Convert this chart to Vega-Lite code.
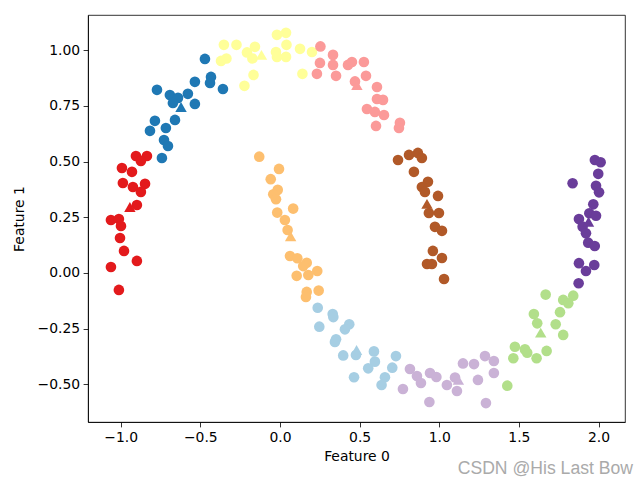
{
  "$schema": "https://vega.github.io/schema/vega-lite/v6.json",
  "width": 537,
  "height": 407,
  "autosize": {"type": "none"},
  "padding": {"left": 88, "top": 15, "right": 15, "bottom": 58},
  "background": "white",
  "config": {
    "view": {"stroke": "#000", "strokeWidth": 0.8},
    "font": "DejaVu Sans",
    "axis": {"grid": false, "labelFont": "DejaVu Sans", "labelFontSize": 13.9, "labelColor": "#000", "tickColor": "#000", "tickSize": 4.9, "tickWidth": 0.8, "domainColor": "#000", "domainWidth": 0.8, "titleFont": "DejaVu Sans", "titleFontSize": 13.9, "titleFontWeight": "normal", "titleColor": "#000", "labelPadding": 3.5, "titlePadding": 5},
    "axisY": {"titlePadding": 11}
  },
  "title": {"text": "CSDN @His Last Bow", "orient": "bottom", "anchor": "end", "color": "#aaaaaa", "fontSize": 17.6, "fontWeight": "normal", "font": "Liberation Sans", "offset": -3, "dx": 8},
  "datasets": {
    "pts": [
      {"x": -0.904, "y": 0.525, "c": "0", "k": "p"},
      {"x": -0.835, "y": 0.525, "c": "0", "k": "p"},
      {"x": -0.873, "y": 0.503, "c": "0", "k": "p"},
      {"x": -0.992, "y": 0.471, "c": "0", "k": "p"},
      {"x": -0.929, "y": 0.454, "c": "0", "k": "p"},
      {"x": -0.986, "y": 0.404, "c": "0", "k": "p"},
      {"x": -0.923, "y": 0.386, "c": "0", "k": "p"},
      {"x": -0.847, "y": 0.4, "c": "0", "k": "p"},
      {"x": -0.873, "y": 0.364, "c": "0", "k": "p"},
      {"x": -0.898, "y": 0.305, "c": "0", "k": "p"},
      {"x": -1.061, "y": 0.238, "c": "0", "k": "p"},
      {"x": -1.011, "y": 0.242, "c": "0", "k": "p"},
      {"x": -0.998, "y": 0.211, "c": "0", "k": "p"},
      {"x": -1.004, "y": 0.157, "c": "0", "k": "p"},
      {"x": -0.979, "y": 0.099, "c": "0", "k": "p"},
      {"x": -0.898, "y": 0.054, "c": "0", "k": "p"},
      {"x": -1.061, "y": 0.027, "c": "0", "k": "p"},
      {"x": -1.011, "y": -0.076, "c": "0", "k": "p"},
      {"x": -0.471, "y": 0.961, "c": "1", "k": "p"},
      {"x": -0.534, "y": 0.858, "c": "1", "k": "p"},
      {"x": -0.433, "y": 0.88, "c": "1", "k": "p"},
      {"x": -0.439, "y": 0.853, "c": "1", "k": "p"},
      {"x": -0.358, "y": 0.826, "c": "1", "k": "p"},
      {"x": -0.772, "y": 0.822, "c": "1", "k": "p"},
      {"x": -0.691, "y": 0.799, "c": "1", "k": "p"},
      {"x": -0.578, "y": 0.804, "c": "1", "k": "p"},
      {"x": -0.64, "y": 0.786, "c": "1", "k": "p"},
      {"x": -0.672, "y": 0.763, "c": "1", "k": "p"},
      {"x": -0.534, "y": 0.759, "c": "1", "k": "p"},
      {"x": -0.659, "y": 0.687, "c": "1", "k": "p"},
      {"x": -0.785, "y": 0.683, "c": "1", "k": "p"},
      {"x": -0.816, "y": 0.638, "c": "1", "k": "p"},
      {"x": -0.716, "y": 0.651, "c": "1", "k": "p"},
      {"x": -0.728, "y": 0.597, "c": "1", "k": "p"},
      {"x": -0.703, "y": 0.57, "c": "1", "k": "p"},
      {"x": -0.741, "y": 0.516, "c": "1", "k": "p"},
      {"x": -0.352, "y": 1.024, "c": "2", "k": "p"},
      {"x": -0.273, "y": 1.024, "c": "2", "k": "p"},
      {"x": -0.336, "y": 0.963, "c": "2", "k": "p"},
      {"x": -0.37, "y": 0.952, "c": "2", "k": "p"},
      {"x": -0.207, "y": 0.99, "c": "2", "k": "p"},
      {"x": -0.157, "y": 1.015, "c": "2", "k": "p"},
      {"x": -0.173, "y": 0.963, "c": "2", "k": "p"},
      {"x": -0.166, "y": 0.889, "c": "2", "k": "p"},
      {"x": -0.223, "y": 0.84, "c": "2", "k": "p"},
      {"x": -0.019, "y": 1.069, "c": "2", "k": "p"},
      {"x": 0.038, "y": 1.078, "c": "2", "k": "p"},
      {"x": -0.025, "y": 0.992, "c": "2", "k": "p"},
      {"x": 0.041, "y": 1.024, "c": "2", "k": "p"},
      {"x": 0.038, "y": 0.97, "c": "2", "k": "p"},
      {"x": -0.019, "y": 0.97, "c": "2", "k": "p"},
      {"x": 0.126, "y": 1.006, "c": "2", "k": "p"},
      {"x": 0.201, "y": 0.992, "c": "2", "k": "p"},
      {"x": 0.141, "y": 0.894, "c": "2", "k": "p"},
      {"x": 0.254, "y": 1.017, "c": "3", "k": "p"},
      {"x": 0.333, "y": 0.979, "c": "3", "k": "p"},
      {"x": 0.251, "y": 0.943, "c": "3", "k": "p"},
      {"x": 0.333, "y": 0.934, "c": "3", "k": "p"},
      {"x": 0.232, "y": 0.894, "c": "3", "k": "p"},
      {"x": 0.352, "y": 0.885, "c": "3", "k": "p"},
      {"x": 0.427, "y": 0.934, "c": "3", "k": "p"},
      {"x": 0.452, "y": 0.947, "c": "3", "k": "p"},
      {"x": 0.527, "y": 0.947, "c": "3", "k": "p"},
      {"x": 0.54, "y": 0.885, "c": "3", "k": "p"},
      {"x": 0.471, "y": 0.86, "c": "3", "k": "p"},
      {"x": 0.609, "y": 0.835, "c": "3", "k": "p"},
      {"x": 0.609, "y": 0.781, "c": "3", "k": "p"},
      {"x": 0.647, "y": 0.777, "c": "3", "k": "p"},
      {"x": 0.546, "y": 0.736, "c": "3", "k": "p"},
      {"x": 0.596, "y": 0.723, "c": "3", "k": "p"},
      {"x": 0.653, "y": 0.709, "c": "3", "k": "p"},
      {"x": 0.603, "y": 0.66, "c": "3", "k": "p"},
      {"x": 0.753, "y": 0.674, "c": "3", "k": "p"},
      {"x": 0.747, "y": 0.651, "c": "3", "k": "p"},
      {"x": -0.13, "y": 0.522, "c": "4", "k": "p"},
      {"x": -0.006, "y": 0.467, "c": "4", "k": "p"},
      {"x": -0.058, "y": 0.421, "c": "4", "k": "p"},
      {"x": -0.014, "y": 0.373, "c": "4", "k": "p"},
      {"x": -0.042, "y": 0.353, "c": "4", "k": "p"},
      {"x": -0.025, "y": 0.331, "c": "4", "k": "p"},
      {"x": 0.083, "y": 0.289, "c": "4", "k": "p"},
      {"x": -0.017, "y": 0.271, "c": "4", "k": "p"},
      {"x": 0.031, "y": 0.238, "c": "4", "k": "p"},
      {"x": 0.048, "y": 0.193, "c": "4", "k": "p"},
      {"x": 0.063, "y": 0.076, "c": "4", "k": "p"},
      {"x": 0.109, "y": 0.066, "c": "4", "k": "p"},
      {"x": 0.168, "y": 0.046, "c": "4", "k": "p"},
      {"x": 0.146, "y": 0.031, "c": "4", "k": "p"},
      {"x": 0.234, "y": 0.009, "c": "4", "k": "p"},
      {"x": 0.178, "y": -0.009, "c": "4", "k": "p"},
      {"x": 0.105, "y": -0.013, "c": "4", "k": "p"},
      {"x": 0.168, "y": -0.085, "c": "4", "k": "p"},
      {"x": 0.163, "y": -0.108, "c": "4", "k": "p"},
      {"x": 0.243, "y": -0.079, "c": "4", "k": "p"},
      {"x": 0.741, "y": 0.507, "c": "5", "k": "p"},
      {"x": 0.81, "y": 0.53, "c": "5", "k": "p"},
      {"x": 0.866, "y": 0.539, "c": "5", "k": "p"},
      {"x": 0.891, "y": 0.516, "c": "5", "k": "p"},
      {"x": 0.841, "y": 0.454, "c": "5", "k": "p"},
      {"x": 0.929, "y": 0.409, "c": "5", "k": "p"},
      {"x": 0.891, "y": 0.386, "c": "5", "k": "p"},
      {"x": 0.91, "y": 0.364, "c": "5", "k": "p"},
      {"x": 0.992, "y": 0.346, "c": "5", "k": "p"},
      {"x": 0.935, "y": 0.269, "c": "5", "k": "p"},
      {"x": 0.998, "y": 0.269, "c": "5", "k": "p"},
      {"x": 0.973, "y": 0.207, "c": "5", "k": "p"},
      {"x": 1.017, "y": 0.189, "c": "5", "k": "p"},
      {"x": 0.96, "y": 0.099, "c": "5", "k": "p"},
      {"x": 1.017, "y": 0.067, "c": "5", "k": "p"},
      {"x": 0.923, "y": 0.04, "c": "5", "k": "p"},
      {"x": 0.954, "y": 0.04, "c": "5", "k": "p"},
      {"x": 1.03, "y": -0.027, "c": "5", "k": "p"},
      {"x": 1.977, "y": 0.507, "c": "6", "k": "p"},
      {"x": 2.013, "y": 0.497, "c": "6", "k": "p"},
      {"x": 1.998, "y": 0.445, "c": "6", "k": "p"},
      {"x": 1.837, "y": 0.403, "c": "6", "k": "p"},
      {"x": 1.984, "y": 0.391, "c": "6", "k": "p"},
      {"x": 2.003, "y": 0.362, "c": "6", "k": "p"},
      {"x": 1.967, "y": 0.308, "c": "6", "k": "p"},
      {"x": 1.877, "y": 0.242, "c": "6", "k": "p"},
      {"x": 1.942, "y": 0.268, "c": "6", "k": "p"},
      {"x": 1.984, "y": 0.257, "c": "6", "k": "p"},
      {"x": 1.9, "y": 0.208, "c": "6", "k": "p"},
      {"x": 1.921, "y": 0.178, "c": "6", "k": "p"},
      {"x": 1.935, "y": 0.136, "c": "6", "k": "p"},
      {"x": 1.976, "y": 0.121, "c": "6", "k": "p"},
      {"x": 1.877, "y": 0.044, "c": "6", "k": "p"},
      {"x": 1.973, "y": 0.036, "c": "6", "k": "p"},
      {"x": 1.921, "y": 0.009, "c": "6", "k": "p"},
      {"x": 1.875, "y": -0.046, "c": "6", "k": "p"},
      {"x": 0.237, "y": -0.156, "c": "7", "k": "p"},
      {"x": 0.331, "y": -0.184, "c": "7", "k": "p"},
      {"x": 0.335, "y": -0.198, "c": "7", "k": "p"},
      {"x": 0.247, "y": -0.241, "c": "7", "k": "p"},
      {"x": 0.435, "y": -0.23, "c": "7", "k": "p"},
      {"x": 0.408, "y": -0.253, "c": "7", "k": "p"},
      {"x": 0.352, "y": -0.298, "c": "7", "k": "p"},
      {"x": 0.345, "y": -0.31, "c": "7", "k": "p"},
      {"x": 0.397, "y": -0.37, "c": "7", "k": "p"},
      {"x": 0.477, "y": -0.368, "c": "7", "k": "p"},
      {"x": 0.59, "y": -0.352, "c": "7", "k": "p"},
      {"x": 0.596, "y": -0.398, "c": "7", "k": "p"},
      {"x": 0.554, "y": -0.428, "c": "7", "k": "p"},
      {"x": 0.728, "y": -0.373, "c": "7", "k": "p"},
      {"x": 0.705, "y": -0.425, "c": "7", "k": "p"},
      {"x": 0.465, "y": -0.468, "c": "7", "k": "p"},
      {"x": 0.659, "y": -0.468, "c": "7", "k": "p"},
      {"x": 0.638, "y": -0.503, "c": "7", "k": "p"},
      {"x": 0.816, "y": -0.431, "c": "8", "k": "p"},
      {"x": 0.86, "y": -0.463, "c": "8", "k": "p"},
      {"x": 0.885, "y": -0.494, "c": "8", "k": "p"},
      {"x": 0.772, "y": -0.521, "c": "8", "k": "p"},
      {"x": 0.942, "y": -0.449, "c": "8", "k": "p"},
      {"x": 0.982, "y": -0.467, "c": "8", "k": "p"},
      {"x": 0.938, "y": -0.579, "c": "8", "k": "p"},
      {"x": 1.099, "y": -0.469, "c": "8", "k": "p"},
      {"x": 1.048, "y": -0.503, "c": "8", "k": "p"},
      {"x": 1.111, "y": -0.53, "c": "8", "k": "p"},
      {"x": 1.149, "y": -0.406, "c": "8", "k": "p"},
      {"x": 1.218, "y": -0.409, "c": "8", "k": "p"},
      {"x": 1.287, "y": -0.373, "c": "8", "k": "p"},
      {"x": 1.343, "y": -0.395, "c": "8", "k": "p"},
      {"x": 1.343, "y": -0.449, "c": "8", "k": "p"},
      {"x": 1.243, "y": -0.48, "c": "8", "k": "p"},
      {"x": 1.293, "y": -0.584, "c": "8", "k": "p"},
      {"x": 1.668, "y": -0.097, "c": "9", "k": "p"},
      {"x": 1.778, "y": -0.121, "c": "9", "k": "p"},
      {"x": 1.841, "y": -0.102, "c": "9", "k": "p"},
      {"x": 1.81, "y": -0.136, "c": "9", "k": "p"},
      {"x": 1.758, "y": -0.176, "c": "9", "k": "p"},
      {"x": 1.594, "y": -0.184, "c": "9", "k": "p"},
      {"x": 1.615, "y": -0.226, "c": "9", "k": "p"},
      {"x": 1.731, "y": -0.23, "c": "9", "k": "p"},
      {"x": 1.778, "y": -0.278, "c": "9", "k": "p"},
      {"x": 1.475, "y": -0.331, "c": "9", "k": "p"},
      {"x": 1.465, "y": -0.383, "c": "9", "k": "p"},
      {"x": 1.538, "y": -0.343, "c": "9", "k": "p"},
      {"x": 1.552, "y": -0.358, "c": "9", "k": "p"},
      {"x": 1.611, "y": -0.383, "c": "9", "k": "p"},
      {"x": 1.674, "y": -0.35, "c": "9", "k": "p"},
      {"x": 1.427, "y": -0.506, "c": "9", "k": "p"},
      {"x": -0.942, "y": 0.296, "c": "0", "k": "c"},
      {"x": -0.621, "y": 0.745, "c": "1", "k": "c"},
      {"x": -0.116, "y": 0.979, "c": "2", "k": "c"},
      {"x": 0.483, "y": 0.844, "c": "3", "k": "c"},
      {"x": 0.067, "y": 0.165, "c": "4", "k": "c"},
      {"x": 0.923, "y": 0.31, "c": "5", "k": "c"},
      {"x": 1.937, "y": 0.23, "c": "6", "k": "c"},
      {"x": 0.481, "y": -0.346, "c": "7", "k": "c"},
      {"x": 1.12, "y": -0.48, "c": "8", "k": "c"},
      {"x": 1.637, "y": -0.268, "c": "9", "k": "c"}
    ]
  },
  "data": {"name": "pts"},
  "mark": {"type": "point", "filled": true, "opacity": 1, "strokeWidth": 0},
  "encoding": {
    "x": {"field": "x", "type": "quantitative", "title": "Feature 0", "scale": {"domain": [-1.205, 2.166], "nice": false, "zero": false}, "axis": {"values": [-1, -0.5, 0, 0.5, 1, 1.5, 2], "format": ".1f"}},
    "y": {"field": "y", "type": "quantitative", "title": "Feature 1", "scale": {"domain": [-0.669, 1.158], "nice": false, "zero": false}, "axis": {"values": [-0.5, -0.25, 0, 0.25, 0.5, 0.75, 1], "format": ".2f"}},
    "color": {"field": "c", "type": "nominal", "legend": null, "scale": {"domain": ["0","1","2","3","4","5","6","7","8","9"], "range": ["#e31a1c","#1f78b4","#ffff99","#fb9a99","#fdbf6f","#b15928","#6a3d9a","#a6cee3","#cab2d6","#b2df8a"]}},
    "shape": {"field": "k", "type": "nominal", "legend": null, "scale": {"domain": ["p","c"], "range": ["circle","triangle-up"]}},
    "size": {"field": "k", "type": "nominal", "legend": null, "scale": {"domain": ["p","c"], "range": [113, 130]}},
    "order": {"field": "k", "sort": "descending"}
  }
}
